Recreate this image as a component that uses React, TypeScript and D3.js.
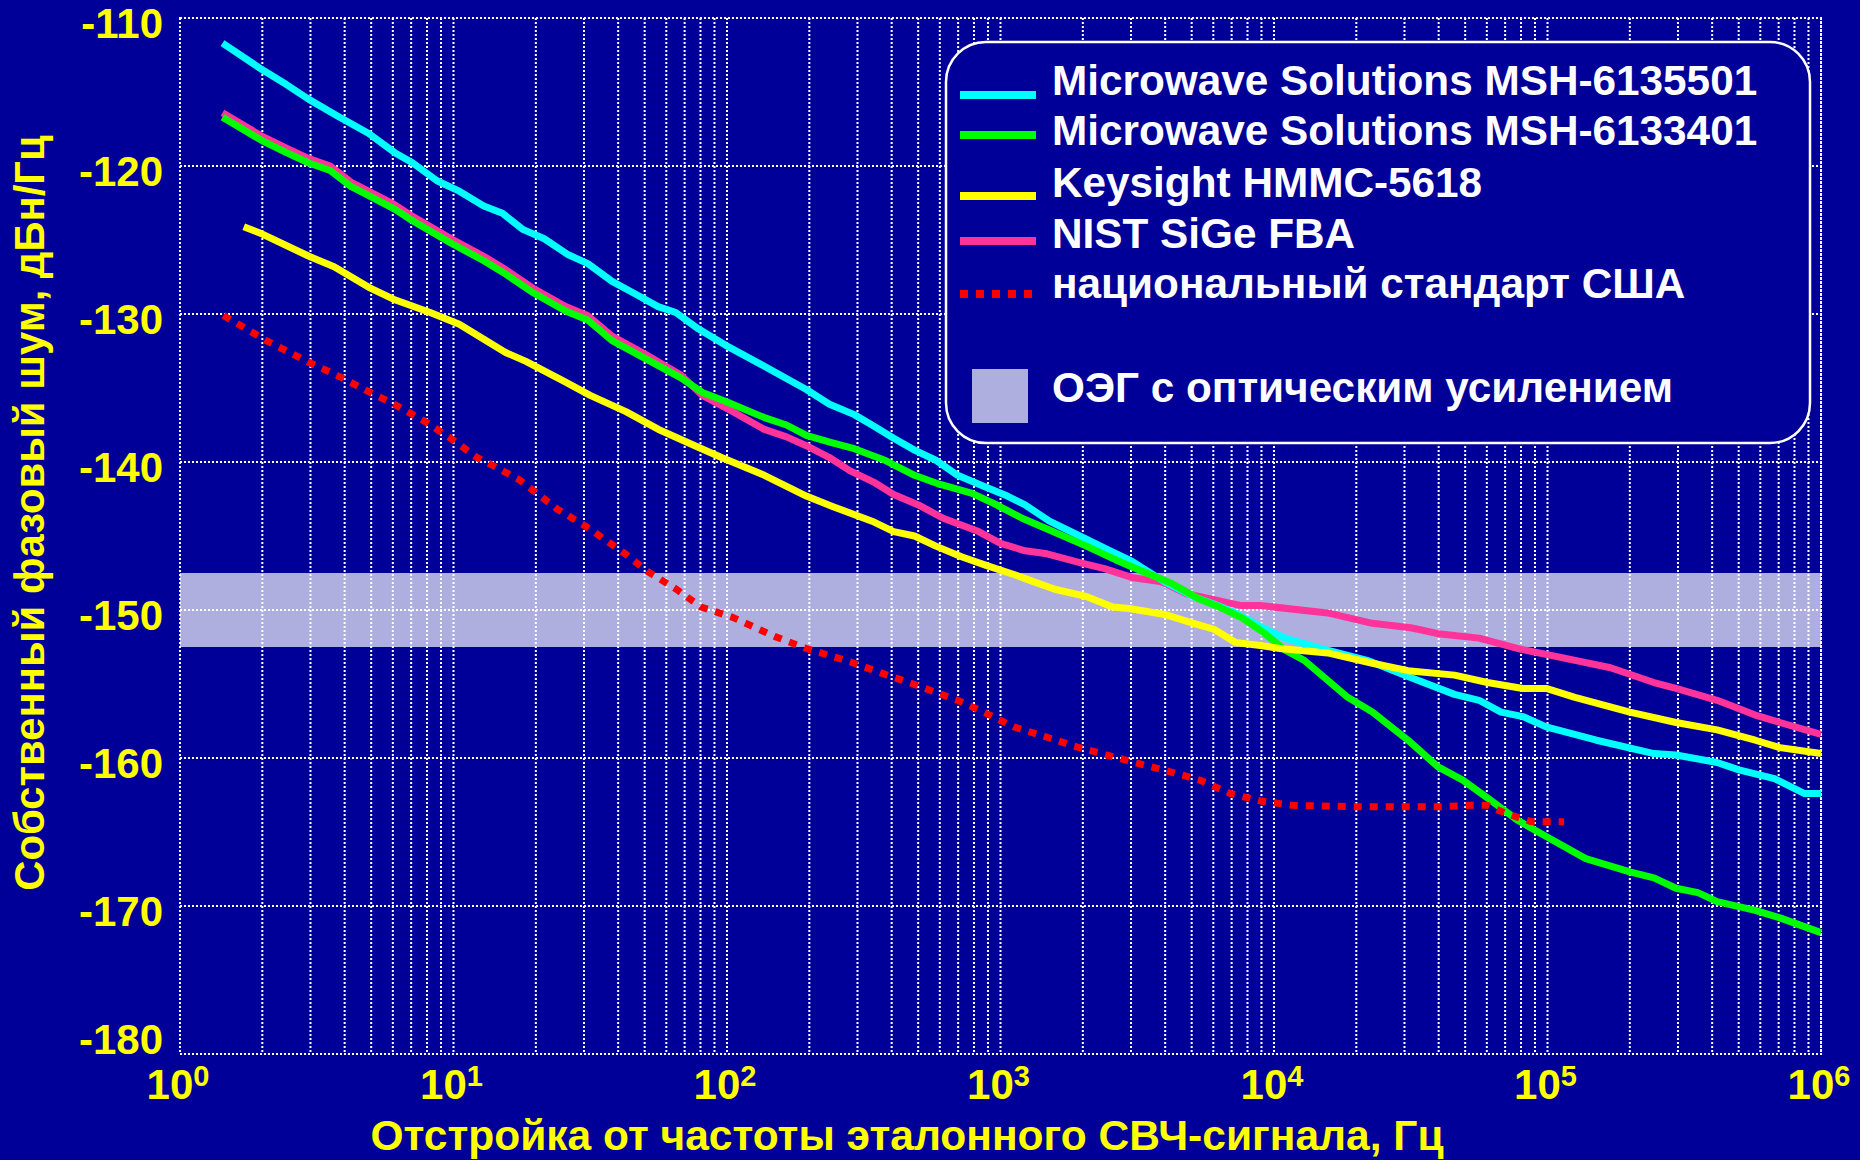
import React from "react";
import * as d3 from "d3";

// ---------- DATA (offset frequency in Hz, phase noise in dBc/Hz) ----------
const mshA: [number, number][] = [
  [1.43, -111.7], [2, -113.5], [2.45, -114.5], [2.96, -115.5], [3.75, -116.6], [4.9, -117.8],
  [6.1, -119.1], [7.1, -119.8], [8.7, -121.0], [10.5, -121.7], [12.9, -122.7], [15.1, -123.2],
  [18, -124.3], [21.4, -124.9], [26.3, -126.0], [31, -126.6], [38, -127.8], [45.7, -128.6],
  [56, -129.5], [65, -129.9], [78.5, -131.0], [98.6, -132.1], [133, -133.4], [195, -135.1],
  [237, -136.1], [292, -136.8], [339, -137.5], [407, -138.4], [485, -139.2], [583, -139.9],
  [697, -140.9], [859, -141.6], [1060, -142.3], [1230, -142.9], [1510, -144.0], [2000, -145.1],
  [2455, -145.9], [3020, -146.7], [3980, -148.1], [5080, -149.1], [6030, -149.6], [7240, -150.2],
  [9120, -151.2], [10960, -151.9], [14800, -152.6], [21900, -153.4], [30900, -154.5],
  [45700, -155.7], [56200, -156.1], [67600, -156.9], [81300, -157.2], [98900, -157.9],
  [151000, -158.8], [245000, -159.7], [295000, -159.8], [417000, -160.3], [501000, -160.8],
  [676000, -161.4], [871000, -162.4], [1000000, -162.4],
];

const mshB: [number, number][] = [
  [1.43, -116.7], [2, -118.3], [2.45, -119.1], [2.96, -119.8], [3.54, -120.3], [4.23, -121.4],
  [6.07, -122.9], [7.08, -123.7], [9.77, -125.2], [12.9, -126.4], [15.5, -127.3], [19.7, -128.6],
  [25.7, -129.8], [30.9, -130.4], [38, -131.8], [50.1, -133.0], [67.6, -134.3], [81.3, -135.3],
  [98.6, -135.9], [137, -137.0], [165, -137.5], [195, -138.2], [243, -138.7], [292, -139.1],
  [380, -139.9], [485, -140.9], [598, -141.5], [783, -142.1], [944, -142.8], [1200, -143.8],
  [1510, -144.6], [2070, -145.7], [2630, -146.6], [3310, -147.4], [4220, -148.2], [5250, -149.2],
  [6310, -149.8], [7590, -150.5], [9120, -151.5], [10960, -152.7], [12900, -153.4],
  [18600, -155.9], [22900, -156.9], [30900, -158.8], [39800, -160.6], [49000, -161.5],
  [60300, -162.7], [77600, -164.2], [98900, -165.3], [138000, -166.8], [200000, -167.7],
  [245000, -168.1], [295000, -168.8], [355000, -169.1], [417000, -169.7], [575000, -170.3],
  [708000, -170.8], [1000000, -171.8],
];

const keysight: [number, number][] = [
  [1.71, -124.1], [2, -124.6], [2.96, -126.1], [3.66, -126.8], [4.9, -128.2], [6.03, -129.0],
  [8.22, -129.9], [10.5, -130.7], [15.5, -132.6], [18.4, -133.2], [25.1, -134.5], [31.6, -135.5],
  [42.7, -136.6], [56.2, -137.8], [78.5, -139.0], [95.5, -139.7], [137, -140.9], [195, -142.3],
  [243, -143.0], [339, -144.0], [407, -144.7], [485, -145.0], [583, -145.7], [720, -146.4],
  [891, -147.0], [1120, -147.6], [1280, -148.0], [1580, -148.6], [2070, -149.1], [2570, -149.8],
  [2950, -149.9], [3980, -150.3], [5080, -150.9], [6030, -151.3], [7240, -152.2], [8910, -152.4],
  [10500, -152.6], [15700, -152.9], [22900, -153.6], [30900, -154.1], [45700, -154.4],
  [60300, -154.9], [81300, -155.3], [98900, -155.3], [126000, -155.9], [200000, -156.9],
  [295000, -157.6], [417000, -158.1], [575000, -158.8], [708000, -159.3], [1000000, -159.7],
];

const nist: [number, number][] = [
  [1.43, -116.4], [2, -118.0], [2.45, -118.8], [2.96, -119.5], [3.54, -120.0], [4.23, -121.1],
  [6.07, -122.6], [7.08, -123.4], [9.77, -124.9], [12.9, -126.1], [15.5, -127.0], [19.7, -128.3],
  [25.7, -129.5], [30.9, -130.1], [38, -131.5], [50.1, -132.7], [67.6, -134.1], [81.3, -135.5],
  [105, -136.6], [137, -137.8], [165, -138.3], [195, -138.9], [237, -139.7], [282, -140.6],
  [347, -141.4], [407, -142.2], [501, -142.9], [617, -143.8], [832, -144.7], [1000, -145.5],
  [1230, -146.0], [1480, -146.2], [1950, -146.8], [2400, -147.2], [3020, -147.8], [3890, -148.1],
  [4790, -148.9], [6030, -149.3], [7590, -149.7], [8910, -149.7], [15700, -150.2],
  [22900, -150.9], [31600, -151.2], [39800, -151.6], [56200, -151.9], [77600, -152.6],
  [98900, -153.0], [170000, -153.9], [245000, -154.9], [295000, -155.3], [417000, -156.1],
  [575000, -157.1], [708000, -157.6], [1000000, -158.4],
];

const usStandard: [number, number][] = [
  [1.44, -130.1], [2.07, -131.8], [2.99, -133.3], [3.8, -134.2], [4.84, -135.2], [6.07, -136.1],
  [7.76, -137.2], [9.77, -138.4], [12.2, -139.7], [13.8, -140.2], [17.4, -141.2], [19.5, -141.9],
  [24, -143.2], [30.2, -144.3], [41.7, -146.1], [51.3, -147.4], [65.3, -148.6], [80.4, -149.8],
  [105, -150.5], [150, -151.8], [195, -152.6], [282, -153.5], [372, -154.3], [479, -155.0],
  [697, -156.1], [891, -157.0], [1120, -157.9], [1480, -158.6], [1860, -159.2], [2450, -159.8],
  [3240, -160.4], [4120, -160.9], [5370, -161.5], [6920, -162.4], [8910, -162.9],
  [11700, -163.2], [20400, -163.3], [30900, -163.3], [39800, -163.3], [52500, -163.2],
  [60300, -163.2], [67600, -163.6], [77600, -164.0], [87100, -164.3], [115000, -164.3],
];

const oegBand: [number, number] = [-152.5, -147.5];

const yTicks = [-110, -120, -130, -140, -150, -160, -170, -180];
const xDecades = [0, 1, 2, 3, 4, 5, 6];

const seriesNames = [
  "Microwave Solutions MSH-6135501",
  "Microwave Solutions MSH-6133401",
  "Keysight HMMC-5618",
  "NIST SiGe FBA",
  "национальный стандарт США",
];
const bandName = "ОЭГ с оптическим усилением";
const xTitle = "Отстройка от частоты эталонного СВЧ-сигнала, Гц";
const yTitle = "Собственный фазовый шум, дБн/Гц";

// ---------- STYLE / LAYOUT ----------
const BG = "#000099";
const BAND = "#AFAFDF";
const FONT = "'Liberation Sans', Arial, Helvetica, sans-serif";
const W = 1860, H = 1160;
const P = { left: 180, right: 1821, top: 18, bottom: 1054 };

const styles = [
  { color: "#00FFFF", dash: null as string | null },
  { color: "#00FF00", dash: null },
  { color: "#FFFF00", dash: null },
  { color: "#FF3399", dash: null },
  { color: "#FF0000", dash: "8,8" },
];
const seriesData = [mshA, mshB, keysight, nist, usStandard];
const drawOrder = [3, 0, 1, 2, 4];

const legendBox = { x: 946, y: 42, w: 864, h: 401, r: 40 };
const legendTextX = 1052;
const legendBaselines = [95, 145, 197, 248, 298];
const legendSwatchY = [95, 135, 196, 241, 294];

export default function App() {
  const x = d3.scaleLog().domain([1, 1e6]).range([P.left, P.right]);
  const y = d3.scaleLinear().domain([-180, -110]).range([P.bottom, P.top]);
  const line = d3
    .line<[number, number]>()
    .x((d) => x(d[0]))
    .y((d) => y(d[1]));

  const vGrid: number[] = [];
  for (let e = 0; e < 6; e++) for (let k = 1; k <= 9; k++) vGrid.push(k * Math.pow(10, e));
  vGrid.push(1e6);

  const dotted = { stroke: "#FFFFFF", strokeWidth: 2, strokeDasharray: "2,2", fill: "none" };

  return (
    <div style={{ position: "fixed", left: 0, top: 0, width: W, height: H }}>
      <svg width={W} height={H} style={{ display: "block" }}>
        <rect x={0} y={0} width={W} height={H} fill={BG} />
        {/* band */}
        <rect
          x={P.left}
          y={y(oegBand[1])}
          width={P.right - P.left}
          height={y(oegBand[0]) - y(oegBand[1])}
          fill={BAND}
        />
        {/* grid */}
        {vGrid.map((v, i) => (
          <line key={"v" + i} x1={x(v)} x2={x(v)} y1={P.top} y2={P.bottom} {...dotted} />
        ))}
        {yTicks.map((t) => (
          <line key={"h" + t} x1={P.left} x2={P.right} y1={y(t)} y2={y(t)} {...dotted} />
        ))}
        <rect x={P.left} y={P.top} width={P.right - P.left} height={P.bottom - P.top} {...dotted} />

        {/* legend box */}
        <rect
          x={legendBox.x}
          y={legendBox.y}
          width={legendBox.w}
          height={legendBox.h}
          rx={legendBox.r}
          ry={legendBox.r}
          fill={BG}
          stroke="#FFFFFF"
          strokeWidth={2.5}
        />

        {/* curves */}
        {drawOrder.map((i) => (
          <path
            key={"s" + i}
            d={line(seriesData[i]) || ""}
            fill="none"
            stroke={styles[i].color}
            strokeWidth={7}
            strokeLinejoin="round"
            strokeDasharray={styles[i].dash || undefined}
          />
        ))}

        {/* legend entries */}
        {seriesNames.map((name, i) => (
          <g key={"l" + i}>
            <line
              x1={960}
              x2={1036}
              y1={legendSwatchY[i]}
              y2={legendSwatchY[i]}
              stroke={styles[i].color}
              strokeWidth={8}
              strokeDasharray={styles[i].dash || undefined}
            />
            <text
              x={legendTextX}
              y={legendBaselines[i]}
              fill="#FFFFFF"
              fontFamily={FONT}
              fontWeight="bold"
              fontSize={42.3}
            >
              {name}
            </text>
          </g>
        ))}
        <rect x={972} y={369} width={56} height={54} fill={BAND} />
        <text x={legendTextX} y={402} fill="#FFFFFF" fontFamily={FONT} fontWeight="bold" fontSize={42.3}>
          {bandName}
        </text>

        {/* y tick labels */}
        {yTicks.map((t) => (
          <text
            key={"yt" + t}
            x={163}
            y={Math.min(y(t) + 20, P.bottom)}
            textAnchor="end"
            fill="#FFFF00"
            fontFamily={FONT}
            fontWeight="bold"
            fontSize={42}
          >
            {t}
          </text>
        ))}

        {/* x tick labels */}
        {xDecades.map((e) => (
          <text
            key={"xt" + e}
            x={x(Math.pow(10, e)) - 2}
            y={1099}
            textAnchor="middle"
            fill="#FFFF00"
            fontFamily={FONT}
            fontWeight="bold"
            fontSize={42}
          >
            10
            <tspan fontSize={29} dy={-13}>
              {e}
            </tspan>
          </text>
        ))}

        {/* axis titles */}
        <text
          x={907}
          y={1150}
          textAnchor="middle"
          fill="#FFFF00"
          fontFamily={FONT}
          fontWeight="bold"
          fontSize={42.5}
        >
          {xTitle}
        </text>
        <text
          transform="translate(44,513) rotate(-90)"
          textAnchor="middle"
          fill="#FFFF00"
          fontFamily={FONT}
          fontWeight="bold"
          fontSize={41.8}
        >
          {yTitle}
        </text>
      </svg>
    </div>
  );
}
